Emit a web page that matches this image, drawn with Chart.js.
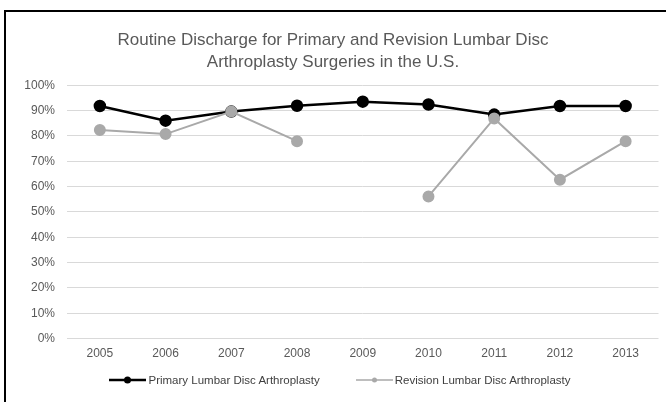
<!DOCTYPE html>
<html>
<head>
<meta charset="utf-8">
<script src="https://cdn.jsdelivr.net/npm/chart.js@4.4.1/dist/chart.umd.min.js"></script>
<style>
  html, body { margin: 0; padding: 0; background: #fff; overflow: hidden; }
  #frame {
    position: absolute; left: 4px; top: 10px; width: 662px; height: 390px;
    border-top: 2px solid #000; border-left: 2px solid #000;
  }
  #wrap { position: absolute; left: 0; top: 0; width: 660px; height: 390px; }
  #legend {
    position: absolute; left: 0; top: 362px; width: 668px;
    display: flex; justify-content: center; align-items: center;
    font-family: 'Liberation Sans', Arial, sans-serif; font-size: 11.5px; color: #404040;
  }
  .item { display: flex; align-items: center; margin: 0 18px; }
  .item canvas { margin-right: 2px; }
</style>
</head>
<body>
<div id="frame">
  <div id="wrap"><canvas id="myChart"></canvas></div>
  <div id="legend"></div>
</div>
<script>
// years on the x axis
const years = ['2005', '2006', '2007', '2008', '2009', '2010', '2011', '2012', '2013']

// routine discharge share, in percent
const primaryVals = [91.8, 86.0, 89.6, 91.9, 93.5, 92.4, 88.4, 91.8, 91.8]
const revisionVals = [82.3, 80.7, 89.6, 77.9, null, 56.1, 86.9, 62.7, 77.9]

const titleLines = ['Routine Discharge for Primary and Revision Lumbar Disc', 'Arthroplasty Surgeries in the U.S.']
const seriesNames = ['Primary Lumbar Disc Arthroplasty', 'Revision Lumbar Disc Arthroplasty']

const black = '#000000'
const grey = '#a9a9a9'
const textCol = '#595959'
const fontFam = 'Liberation Sans, Arial, sans-serif'

// little line + dot icon for the legend
function legendIcon(color, lw, r){
  const c = document.createElement('canvas')
  c.width = 37; c.height = 10
  const g = c.getContext('2d')
  g.strokeStyle = color
  g.lineWidth = lw
  g.beginPath(); g.moveTo(0, 5); g.lineTo(37, 5); g.stroke()
  g.fillStyle = color
  g.beginPath(); g.arc(18.5, 5, r, 0, Math.PI * 2); g.fill()
  return c
}

// html legend under the chart
const legendBox = document.getElementById('legend')
const legendStyles = [[black, 2.5, 3.5], [grey, 1.5, 2.5]]
seriesNames.forEach((name, i) => {
  const item = document.createElement('div')
  item.className = 'item'
  item.appendChild(legendIcon(...legendStyles[i]))
  const span = document.createElement('span')
  span.textContent = name
  item.appendChild(span)
  legendBox.appendChild(item)
})

const ctx = document.getElementById('myChart')

let myChart = new Chart(ctx, {
  type: 'line',
  data: {
    labels: years,
    datasets: [{
      label: seriesNames[0],
      data: primaryVals,
      borderColor: black,
      backgroundColor: black,
      borderWidth: 2.5,
      pointRadius: 5,
      pointHoverRadius: 5,
      fill: false,
      tension: 0,
      order: 1
    }, {
      label: seriesNames[1],
      data: revisionVals,
      borderColor: grey,
      backgroundColor: grey,
      borderWidth: 2,
      pointRadius: 5,
      pointHoverRadius: 5,
      fill: false,
      tension: 0,
      spanGaps: false,
      order: 0
    }]
  },
  options: {
    responsive: true,
    maintainAspectRatio: false,
    animation: false,
    layout: { padding: { left: 0, right: 6, top: 17, bottom: 33 } },
    plugins: {
      title: {
        display: true,
        text: titleLines,
        color: textCol,
        font: { family: fontFam, size: 17, weight: 'normal', lineHeight: 1.3 },
        padding: { top: 0, bottom: 12 }
      },
      legend: { display: false },
      tooltip: { enabled: false }
    },
    scales: {
      x: {
        offset: true,
        grid: { display: false, drawTicks: false },
        border: { display: false },
        ticks: {
          color: textCol,
          font: { family: fontFam, size: 12 },
          padding: 8
        }
      },
      y: {
        min: 0,
        max: 100,
        afterFit: function(scale){ scale.width = 61 },
        grid: { color: '#d9d9d9', lineWidth: 1, drawTicks: false },
        border: { display: false },
        ticks: {
          stepSize: 10,
          color: textCol,
          font: { family: fontFam, size: 12 },
          padding: 12,
          callback: function(v){ return v + '%' }
        }
      }
    }
  }
})
</script>
</body>
</html>
